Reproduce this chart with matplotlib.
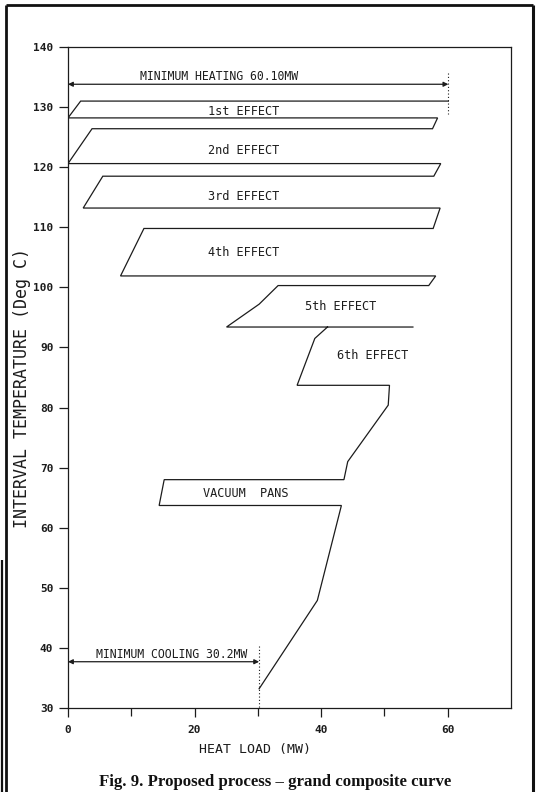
import matplotlib
matplotlib.use("Agg")
import numpy as np
import matplotlib.pyplot as plt
from matplotlib.lines import Line2D

# Grand composite curve: heat load (MW) vs shifted interval temperature (deg C)
# (NaN splits the path where the 5th-effect line overshoots the 6th-effect start)
heat_load = [60.1, 2.0, 0.0, 58.4, 57.6, 3.8, 0.0, 58.9, 57.8, 5.5, 2.4, 58.8,
             57.7, 12.0, 8.3, 58.1, 57.0, 33.2, 30.2, 25.05, 54.5, np.nan, 41.0,
             39.0, 36.2, 50.8, 50.6, 44.2, 43.6, 15.2, 14.4, 43.2, 39.4, 30.2]
temperature = [131.0, 131.0, 128.2, 128.2, 126.4, 126.4, 120.6, 120.6, 118.5,
               118.5, 113.2, 113.2, 109.8, 109.8, 101.9, 101.9, 100.3, 100.3,
               97.2, 93.4, 93.4, np.nan, 93.4, 91.5, 83.7, 83.7, 80.4, 71.0,
               68.0, 68.0, 63.7, 63.7, 47.9, 33.2]

# Utility targets
min_heating = 60.1
min_cooling = 30.2

# Region labels (text, heat load, temperature)
region_names = ["1st EFFECT", "2nd EFFECT", "3rd EFFECT", "4th EFFECT",
                "5th EFFECT", "6th EFFECT", "VACUUM  PANS"]
region_q = [27.8, 27.8, 27.8, 27.8, 43.1, 48.2, 28.1]
region_t = [129.3, 122.8, 115.2, 105.8, 96.8, 88.6, 65.7]

x_ticks = [0, 20, 40, 60]
x_minor = [10, 30, 50]
y_ticks = [30, 40, 50, 60, 70, 80, 90, 100, 110, 120, 130, 140]

INK = "#1c1c1c"
MONO = "DejaVu Sans Mono"

fig = plt.figure(figsize=(5.37, 7.92), dpi=100)
fig.patch.set_facecolor("white")

W, H = 537.0, 792.0
ax = fig.add_axes([68 / W, (H - 708) / H, (511 - 68) / W, (708 - 47) / H])

ax.plot(heat_load, temperature, color=INK, lw=0.9, solid_joinstyle="miter")

ax.set_xlim(0, 70)
ax.set_ylim(30, 140)

for s in ax.spines.values():
    s.set_linewidth(0.9)
    s.set_color(INK)

ax.set_xticks(x_ticks)
ax.set_xticks(x_minor, minor=True)
ax.set_yticks(y_ticks)
ax.tick_params(axis="both", which="major", direction="out", length=6.5,
               width=0.9, color=INK, labelsize=8, labelcolor=INK)
ax.tick_params(axis="x", which="minor", direction="out", length=5.5,
               width=0.9, color=INK)
ax.tick_params(axis="x", which="major", pad=6)
ax.tick_params(axis="y", which="major", pad=4)
for lab in ax.get_xticklabels() + ax.get_yticklabels():
    lab.set_family(MONO)
    lab.set_weight("bold")

ax.set_xlabel("HEAT LOAD (MW)", family=MONO, fontsize=9.5, color=INK)
ax.xaxis.set_label_coords((254.8 - 68) / 443, (708 - 749.3) / 661)
ax.xaxis.label.set_va("center")
ax.set_ylabel("INTERVAL TEMPERATURE (Deg C)", family=MONO, fontsize=12,
              color=INK)
ax.yaxis.set_label_coords((22 - 68) / 443, (708 - 388) / 661)
ax.yaxis.label.set_va("center")

# Minimum heating requirement
ax.annotate("", xy=(min_heating, 133.8), xytext=(0, 133.8),
            arrowprops=dict(arrowstyle="<|-|>", color=INK, lw=0.9,
                            mutation_scale=7, shrinkA=0, shrinkB=0))
ax.plot([min_heating, min_heating], [135.6, 128.8], color=INK, lw=0.8,
        ls=(0, (1, 2)))
ax.text(23.9, 135.1, "MINIMUM HEATING %.2fMW" % min_heating, family=MONO,
        fontsize=8.3, ha="center", va="center", color=INK)

# Minimum cooling requirement
ax.annotate("", xy=(min_cooling, 37.7), xytext=(0, 37.7),
            arrowprops=dict(arrowstyle="<|-|>", color=INK, lw=0.9,
                            mutation_scale=7, shrinkA=0, shrinkB=0))
ax.plot([min_cooling, min_cooling], [40.3, 30.0], color=INK, lw=0.8,
        ls=(0, (1, 2)))
ax.text(4.4, 38.9, "MINIMUM COOLING %.1fMW" % min_cooling, family=MONO,
        fontsize=8.3, ha="left", va="center", color=INK)

for name, q, t in zip(region_names, region_q, region_t):
    ax.text(q, t, name, family=MONO, fontsize=8.6, ha="center", va="center",
            color=INK)

# Caption
fig.text(274.8 / W, 1 - 782 / H,
         "Fig. 9. Proposed process \u2013 grand composite curve",
         family="Liberation Serif", weight="bold", fontsize=12.1,
         ha="center", va="center", color="#111111")

# Page frame
def px_line(xs, ys, lw):
    fig.add_artist(Line2D([x / W for x in xs], [1 - y / H for y in ys],
                          transform=fig.transFigure, color="#111111", lw=lw,
                          solid_capstyle="butt"))

px_line([6, 533], [5, 5], 2.0)
px_line([6, 6], [5, 792], 2.0)
px_line([533, 533], [5, 792], 2.2)
px_line([1.5, 1.5], [560, 792], 1.6)

fig.savefig("out.png", dpi=100, facecolor="white")
